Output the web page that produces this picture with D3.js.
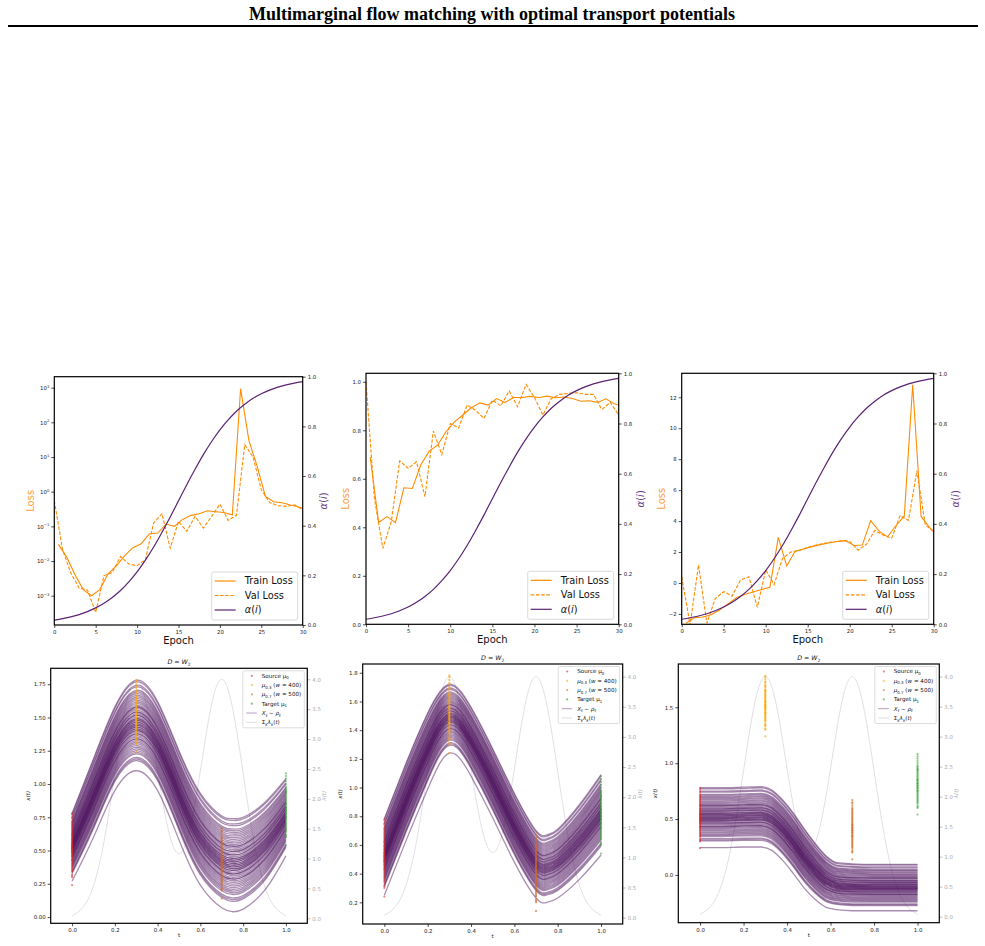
<!DOCTYPE html>
<html>
<head>
<meta charset="utf-8">
<script src="https://cdn.jsdelivr.net/npm/d3@7"></script>
<style>
body { margin: 0; background: #fff; }
svg { display: block; }
text { font-family: "DejaVu Sans", sans-serif; }
</style>
</head>
<body>
<svg id="fig" width="985" height="946"></svg>
<script>
// ---------- values ----------
var epochs = [0,1,2,3,4,5,6,7,8,9,10,11,12,13,14,15,16,17,18,19,20,21,22,23,24,25,26,27,28,29,30]
var train_epochs = [0.5,1.5,2.5,3.5,4.5,5.5,6.5,7.5,8.5,9.5,10.5,11.5,12.5,13.5,14.5,15.5,16.5,17.5,18.5,19.5,20.5,21.5,22.5,23.5,24.5,25.5,26.5,27.5,28.5,29.5,30]

// alpha(i) schedule (same in the three runs)
var alpha = [0.020,0.026,0.033,0.042,0.054,0.069,0.088,0.111,0.139,0.174,0.214,0.261,0.314,0.373,0.435,0.500,0.565,0.627,0.686,0.739,0.786,0.826,0.861,0.889,0.913,0.931,0.946,0.958,0.967,0.974,0.980]

// run 1 (log scale)
var trainA = [0.0303,0.013,0.004,0.0015,0.001,0.0015,0.0043,0.0073,0.0143,0.0243,0.0316,0.0616,0.064,0.117,0.100,0.159,0.208,0.232,0.283,0.265,0.25,0.212,935,30.3,5.38,0.733,0.515,0.482,0.412,0.361,0.33]
var valA = [0.55,0.0212,0.0045,0.00166,0.00146,0.00033,0.0038,0.0047,0.0136,0.0082,0.0073,0.011,0.125,0.232,0.0237,0.139,0.0718,0.194,0.0895,0.194,0.441,0.149,0.208,22.7,10,1.14,0.49,0.394,0.377,0.42,0.303]
// run 2
var trainB = [0.69,0.42,0.444,0.419,0.563,0.56,0.657,0.714,0.739,0.794,0.835,0.863,0.893,0.913,0.904,0.931,0.915,0.935,0.935,0.94,0.935,0.941,0.934,0.937,0.931,0.92,0.922,0.915,0.93,0.909,0.904]
var valB = [1.0,0.519,0.313,0.423,0.674,0.643,0.67,0.526,0.797,0.70,0.828,0.81,0.904,0.883,0.849,0.924,0.901,0.962,0.897,0.989,0.935,0.863,0.931,0.948,0.952,0.955,0.948,0.948,0.886,0.915,0.863]
// run 3
var trainC = [-2.6,-2.25,-2.2,-2.05,-1.75,-1.35,-0.95,-0.75,-0.58,-0.42,-0.28,2.95,1.1,2.05,2.2,2.35,2.48,2.58,2.68,2.74,2.42,2.45,4.03,3.35,2.98,3.7,4.33,12.8,4.3,3.6,3.32]
var valC = [0.41,-2.7,1.16,-2.6,-1.0,-0.56,-0.85,0.2,0.4,-1.57,0.84,-0.1,1.6,2.0,2.1,2.3,2.45,2.56,2.66,2.72,2.7,2.12,2.5,3.4,3.08,2.9,4.35,4.05,7.25,3.75,3.32]

// marginal samples (shared by the three flow plots)
var source = [0.24,0.30,0.31,0.32,0.34,0.35,0.36,0.37,0.38,0.39,0.40,0.41,0.42,0.43,0.43,0.44,0.45,0.46,0.46,0.47,
  0.48,0.48,0.49,0.49,0.50,0.50,0.51,0.51,0.52,0.52,0.53,0.53,0.54,0.54,0.55,0.55,0.56,0.57,0.57,0.58,
  0.59,0.59,0.60,0.61,0.62,0.62,0.63,0.64,0.65,0.66,0.67,0.68,0.69,0.70,0.71,0.72,0.74,0.75,0.77,0.78]
var mu03 = [1.24,1.30,1.31,1.33,1.34,1.35,1.37,1.38,1.39,1.40,1.41,1.42,1.43,1.44,1.45,1.45,1.46,1.47,1.48,1.48,
  1.49,1.50,1.50,1.51,1.52,1.52,1.53,1.54,1.55,1.55,1.56,1.57,1.58,1.59,1.60,1.61,1.62,1.63,1.64,1.65,
  1.65,1.66,1.68,1.69,1.70,1.72,1.73,1.75,1.77,1.78]
var mu07 = [0.14,0.20,0.21,0.22,0.24,0.25,0.26,0.27,0.28,0.29,0.30,0.31,0.32,0.33,0.34,0.35,0.35,0.36,0.37,0.38,
  0.38,0.39,0.40,0.40,0.41,0.42,0.42,0.43,0.44,0.45,0.45,0.46,0.47,0.48,0.49,0.50,0.51,0.52,0.53,0.54,
  0.55,0.56,0.57,0.58,0.59,0.60,0.62,0.64,0.65,0.67]
var target = [0.54,0.60,0.61,0.62,0.64,0.65,0.66,0.67,0.68,0.69,0.70,0.71,0.72,0.73,0.74,0.75,0.75,0.76,0.77,0.78,
  0.78,0.79,0.80,0.80,0.81,0.82,0.82,0.83,0.84,0.85,0.85,0.86,0.87,0.88,0.89,0.90,0.91,0.92,0.93,0.94,
  0.94,0.95,0.96,0.97,0.98,1.00,1.02,1.04,1.06,1.08]

// sum of lambda_k(t)
var lam_t = [0,0.05,0.1,0.15,0.2,0.25,0.3,0.35,0.4,0.45,0.5,0.55,0.6,0.65,0.7,0.75,0.8,0.85,0.9,0.95,1.0]
var lam = [0.04,0.18,0.54,1.30,2.43,3.53,4.00,3.54,2.47,1.48,1.08,1.48,2.47,3.54,4.00,3.53,2.43,1.30,0.54,0.18,0.04]

// trajectory envelopes: path of the highest (hi) and lowest (lo) source sample
var flow1_t = [0,0.1,0.2,0.3,0.4,0.5,0.6,0.7,0.75,0.8,0.9,1.0]
var flow1_hi = [0.78,1.19,1.58,1.78,1.62,1.25,0.93,0.76,0.74,0.75,0.86,1.04]
var flow1_lo = [0.27,0.60,0.95,1.10,0.95,0.58,0.24,0.07,0.04,0.06,0.20,0.46]
var flow2_t = [0,0.1,0.2,0.3,0.4,0.5,0.6,0.7,0.75,0.8,0.9,1.0]
var flow2_hi = [0.785,1.17,1.52,1.72,1.56,1.27,0.96,0.70,0.67,0.71,0.88,1.09]
var flow2_lo = [0.25,0.63,0.99,1.24,1.08,0.79,0.48,0.23,0.20,0.23,0.36,0.53]
var flow3_t = [0,0.1,0.2,0.28,0.33,0.38,0.43,0.48,0.53,0.58,0.63,0.7,0.8,0.9,1.0]
var flow3_hi = [0.78,0.78,0.785,0.79,0.76,0.67,0.55,0.41,0.28,0.17,0.11,0.10,0.095,0.095,0.095]
var flow3_lo = [0.245,0.245,0.25,0.25,0.22,0.13,0.01,-0.12,-0.22,-0.29,-0.31,-0.32,-0.32,-0.32,-0.32]

var epoch_ticks = [0,5,10,15,20,25,30]
var alpha_ticks = [0,0.2,0.4,0.6,0.8,1.0]
var t_ticks = [0,0.2,0.4,0.6,0.8,1.0]
var lam_ticks = [0,0.5,1,1.5,2,2.5,3,3.5,4]

var ORANGE = "#ff8c00", PURPLE = "#5a2373", TRAJ = "#4e125e"

// ---------- drawing ----------
var svg = d3.select("#fig")
var clip_n = 0

svg.append("text").attr("x", 492).attr("y", 20).attr("text-anchor", "middle")
  .style("font-family", "'Liberation Serif','Times New Roman',serif")
  .style("font-weight", "bold").style("font-size", "18px")
  .text("Multimarginal flow matching with optimal transport potentials")
svg.append("line").attr("x1", 8).attr("x2", 978).attr("y1", 26).attr("y2", 26)
  .attr("stroke", "#000").attr("stroke-width", 2)

// text with sub/superscripts and italics
function rich(sel, parts, fs) {
  var shift = 0
  parts.forEach(function(p) {
    var kind = p[1] || ""
    var target = kind.indexOf("sub") >= 0 ? fs * 0.3 : (kind.indexOf("sup") >= 0 ? -fs * 0.42 : 0)
    var ts = sel.append("tspan").text(p[0])
    if (target != shift) { ts.attr("dy", target - shift); shift = target }
    if (kind.indexOf("sub") >= 0 || kind.indexOf("sup") >= 0) ts.style("font-size", (fs * 0.7) + "px")
    if (kind.indexOf("it") >= 0) ts.style("font-style", "italic")
  })
}

function make_clip(p) {
  var cid = "clip" + (clip_n++)
  svg.append("clipPath").attr("id", cid).append("rect")
    .attr("x", p.left).attr("y", p.top).attr("width", p.right - p.left).attr("height", p.bottom - p.top)
  return "url(#" + cid + ")"
}

function style_axis(ax, fs, col) {
  ax.select(".domain").remove()
  ax.selectAll(".tick line").attr("stroke", col).attr("stroke-width", 0.8)
  ax.selectAll(".tick text").attr("fill", col).style("font-size", fs + "px")
}

function loss_panel(p) {
  var x = d3.scaleLinear().domain([0, 30]).range([p.left, p.right])
  var y = (p.log ? d3.scaleLog() : d3.scaleLinear()).domain(p.ydom).range([p.bottom, p.top])
  var ya = d3.scaleLinear().domain([0, 1]).range([p.bottom, p.top])
  var g = svg.append("g")
  var plot = g.append("g").attr("clip-path", make_clip(p))

  plot.append("path").datum(p.train)
    .attr("d", d3.line().x(function(d, i) { return x(train_epochs[i]) }).y(function(d) { return y(d) }))
    .attr("fill", "none").attr("stroke", ORANGE).attr("stroke-width", 1.1)
  plot.append("path").datum(p.val)
    .attr("d", d3.line().x(function(d, i) { return x(epochs[i]) }).y(function(d) { return y(d) }))
    .attr("fill", "none").attr("stroke", ORANGE).attr("stroke-width", 1.1).attr("stroke-dasharray", "3.6,1.6")
  plot.append("path").datum(alpha)
    .attr("d", d3.line().x(function(d, i) { return x(epochs[i]) }).y(function(d) { return ya(d) }).curve(d3.curveMonotoneX))
    .attr("fill", "none").attr("stroke", PURPLE).attr("stroke-width", 1.2)

  var xa = g.append("g").attr("transform", "translate(0," + p.bottom + ")")
    .call(d3.axisBottom(x).tickValues(epoch_ticks).tickSize(3).tickPadding(2))
  style_axis(xa, 5.4, "#222")
  var yl = g.append("g").attr("transform", "translate(" + p.left + ",0)")
    .call(d3.axisLeft(y).tickValues(p.yticks).tickSize(3).tickPadding(2).tickFormat(p.fmt))
  style_axis(yl, 5.4, "#222")
  if (p.log) {
    yl.selectAll(".tick text").each(function(d) {
      var t = d3.select(this).text("")
      var e = Math.round(Math.log10(d))
      rich(t, [["10"], [(e < 0 ? "\u2212" : "") + Math.abs(e), "sup"]], 5.4)
    })
  }
  var yr = g.append("g").attr("transform", "translate(" + p.right + ",0)")
    .call(d3.axisRight(ya).tickValues(alpha_ticks).tickFormat(d3.format(".1f")).tickSize(3).tickPadding(2))
  style_axis(yr, 5.4, "#222")

  g.append("rect").attr("x", p.left).attr("y", p.top).attr("width", p.right - p.left).attr("height", p.bottom - p.top)
    .attr("fill", "none").attr("stroke", "#000").attr("stroke-width", 1.2)

  var cy = (p.top + p.bottom) / 2
  g.append("text").attr("transform", "translate(" + p.loss_x + "," + cy + ") rotate(-90)")
    .attr("text-anchor", "middle").attr("dy", "0.35em").style("font-size", "10px").attr("fill", "#ffa040").text("Loss")
  var al = g.append("text").attr("transform", "translate(" + p.alpha_x + "," + cy + ") rotate(-90)")
    .attr("text-anchor", "middle").attr("dy", "0.35em").style("font-size", "10px").attr("fill", "#6a3c86")
  rich(al, [["\u03b1", "it"], ["("], ["i", "it"], [")"]], 10)
  g.append("text").attr("x", (p.left + p.right) / 2).attr("y", p.bottom + 18.5)
    .attr("text-anchor", "middle").style("font-size", "10px").attr("fill", "#111").text("Epoch")

  // legend
  var lw = 86, lh = 48
  var lx = p.right - 5 - lw, ly = p.bottom - 5 - lh
  var lg = g.append("g")
  lg.append("rect").attr("x", lx).attr("y", ly).attr("width", lw).attr("height", lh).attr("rx", 2)
    .attr("fill", "#fff").attr("fill-opacity", 0.85).attr("stroke", "#d0d0d0").attr("stroke-width", 0.8)
  var items = [
    {lab: [["Train Loss"]], col: ORANGE, dash: null},
    {lab: [["Val Loss"]], col: ORANGE, dash: "3.6,1.6"},
    {lab: [["\u03b1", "it"], ["("], ["i", "it"], [")"]], col: PURPLE, dash: null}
  ]
  items.forEach(function(it, i) {
    var yy = ly + 9 + i * 14.5
    lg.append("line").attr("x1", lx + 3).attr("x2", lx + 24).attr("y1", yy).attr("y2", yy)
      .attr("stroke", it.col).attr("stroke-width", 1.2).attr("stroke-dasharray", it.dash)
    var t = lg.append("text").attr("x", lx + 33).attr("y", yy).attr("dy", "0.35em").style("font-size", "9.8px").attr("fill", "#111")
    rich(t, it.lab, 9.8)
  })
}

function flow_panel(p) {
  var x = d3.scaleLinear().domain([-0.1, 1.1]).range([p.left, p.right])
  var y = d3.scaleLinear().domain(p.ydom).range([p.bottom, p.top])
  var yl = d3.scaleLinear().domain(p.ldom).range([p.bottom, p.top])
  var g = svg.append("g")
  var plot = g.append("g").attr("clip-path", make_clip(p))

  plot.append("path").datum(lam)
    .attr("d", d3.line().x(function(d, i) { return x(lam_t[i]) }).y(function(d) { return yl(d) }).curve(d3.curveNatural))
    .attr("fill", "none").attr("stroke", "#e3dee4").attr("stroke-width", 1)

  // one trajectory per source sample, placed by its rank inside the envelopes
  var lo = d3.min(source), hi = d3.max(source)
  var traj = d3.line().x(function(d) { return x(d[0]) }).y(function(d) { return y(d[1]) }).curve(p.curve)
  plot.selectAll(".traj").data(source).enter().append("path").attr("class", "traj")
    .attr("d", function(s) {
      var q = (s - lo) / (hi - lo)
      return traj(p.knots.map(function(t, k) { return [t, p.env_lo[k] + q * (p.env_hi[k] - p.env_lo[k])] }))
    })
    .attr("fill", "none").attr("stroke", TRAJ).attr("stroke-opacity", 0.48).attr("stroke-width", 1.3)

  var sets = [[source, 0, "#d62728", 0.55], [mu03, 0.3, "#ffa500", 0.7], [mu07, 0.7, "#d2691e", 0.65], [target, 1.0, "#2ca02c", 0.55]]
  sets.forEach(function(s) {
    plot.selectAll(null).data(s[0]).enter().append("circle")
      .attr("cx", x(s[1])).attr("cy", function(d) { return y(d) }).attr("r", 1.1)
      .attr("fill", s[2]).attr("fill-opacity", s[3])
  })

  var xa = g.append("g").attr("transform", "translate(0," + p.bottom + ")")
    .call(d3.axisBottom(x).tickValues(t_ticks).tickFormat(d3.format(".1f")).tickSize(3).tickPadding(2))
  style_axis(xa, 5.4, "#222")
  var ya = g.append("g").attr("transform", "translate(" + p.left + ",0)")
    .call(d3.axisLeft(y).tickValues(p.yticks).tickFormat(d3.format(p.yfmt)).tickSize(3).tickPadding(2))
  style_axis(ya, 5.4, "#222")
  var yr = g.append("g").attr("transform", "translate(" + p.right + ",0)")
    .call(d3.axisRight(yl).tickValues(lam_ticks).tickFormat(d3.format(".1f")).tickSize(3).tickPadding(2))
  style_axis(yr, 5.4, "#aaa")

  g.append("rect").attr("x", p.left).attr("y", p.top).attr("width", p.right - p.left).attr("height", p.bottom - p.top)
    .attr("fill", "none").attr("stroke", "#000").attr("stroke-width", 1.2)

  var cy = (p.top + p.bottom) / 2
  var tt = g.append("text").attr("x", (p.left + p.right) / 2).attr("y", p.top - 4)
    .attr("text-anchor", "middle").style("font-size", "6.3px").attr("fill", "#111")
  rich(tt, [["D", "it"], [" = "], ["W", "it"], ["2", "sub"]], 6.3)
  g.append("text").attr("transform", "translate(" + (p.left - 23) + "," + cy + ") rotate(-90)")
    .attr("text-anchor", "middle").attr("dy", "0.35em").style("font-size", "5.5px").style("font-style", "italic")
    .attr("fill", "#222").text("x(t)")
  g.append("text").attr("transform", "translate(" + (p.right + 17) + "," + cy + ") rotate(-90)")
    .attr("text-anchor", "middle").attr("dy", "0.35em").style("font-size", "5.5px").style("font-style", "italic")
    .attr("fill", "#aaa").text("\u03bb(t)")
  g.append("text").attr("x", (p.left + p.right) / 2).attr("y", p.bottom + 14)
    .attr("text-anchor", "middle").style("font-size", "5.5px").attr("fill", "#222").text("t")

  // legend
  var lw = 61.5, lh = 57
  var lx = p.right - 3 - lw, ly = p.top + 2.5
  var lg = g.append("g")
  lg.append("rect").attr("x", lx).attr("y", ly).attr("width", lw).attr("height", lh).attr("rx", 1.5)
    .attr("fill", "#fff").attr("fill-opacity", 0.85).attr("stroke", "#d0d0d0").attr("stroke-width", 0.7)
  var items = [
    {lab: [["Source \u03bc"], ["0", "sub"]], dot: "#d62728"},
    {lab: [["\u03bc", "it"], ["0.3", "sub"], [" ("], ["w", "it"], [" = 400)"]], dot: "#ffa500"},
    {lab: [["\u03bc", "it"], ["0.7", "sub"], [" ("], ["w", "it"], [" = 500)"]], dot: "#d2691e"},
    {lab: [["Target \u03bc"], ["1", "sub"]], dot: "#2ca02c"},
    {lab: [["X", "it"], ["t", "itsub"], [" \u223c "], ["\u03c1", "it"], ["t", "itsub"]], line: "#b59cc2"},
    {lab: [["\u03a3"], ["k", "itsub"], ["\u03bb", "it"], ["k", "itsub"], ["("], ["t", "it"], [")"]], line: "#e2dce3"}
  ]
  items.forEach(function(it, i) {
    var yy = ly + 5 + i * 9.3
    if (it.dot) lg.append("circle").attr("cx", lx + 9).attr("cy", yy).attr("r", 1.1).attr("fill", it.dot).attr("fill-opacity", 0.6)
    else lg.append("line").attr("x1", lx + 3.5).attr("x2", lx + 14).attr("y1", yy).attr("y2", yy).attr("stroke", it.line).attr("stroke-width", 1)
    var t = lg.append("text").attr("x", lx + 19).attr("y", yy).attr("dy", "0.35em").style("font-size", "5.6px").attr("fill", "#111")
    rich(t, it.lab, 5.6)
  })
}

loss_panel({left: 54.3, right: 302.7, top: 376.7, bottom: 625, log: true,
  ydom: [Math.pow(10, -3.845), Math.pow(10, 3.317)], yticks: [1e-3, 1e-2, 1e-1, 1, 1e1, 1e2, 1e3], fmt: null,
  train: trainA, val: valA, loss_x: 30, alpha_x: 323.3})
loss_panel({left: 366, right: 618.7, top: 373.3, bottom: 624.3, log: false,
  ydom: [0, 1.035], yticks: [0, 0.2, 0.4, 0.6, 0.8, 1.0], fmt: d3.format(".1f"),
  train: trainB, val: valB, loss_x: 345, alpha_x: 640})
loss_panel({left: 681.7, right: 933.7, top: 373.3, bottom: 624.3, log: false,
  ydom: [-2.67, 13.55], yticks: [-2, 0, 2, 4, 6, 8, 10, 12], fmt: d3.format("d"),
  train: trainC, val: valC, loss_x: 661.7, alpha_x: 955})

flow_panel({left: 50.7, right: 307.3, top: 668.3, bottom: 923.3, ydom: [-0.047, 1.87], ldom: [-0.084, 4.184],
  yticks: [0, 0.25, 0.5, 0.75, 1.0, 1.25, 1.5, 1.75], yfmt: ".2f",
  knots: flow1_t, env_hi: flow1_hi, env_lo: flow1_lo, curve: d3.curveNatural})
flow_panel({left: 362.7, right: 622.7, top: 664, bottom: 924, ydom: [0.049, 1.861], ldom: [-0.105, 4.21],
  yticks: [0.2, 0.4, 0.6, 0.8, 1.0, 1.2, 1.4, 1.6, 1.8], yfmt: ".1f",
  knots: flow2_t, env_hi: flow2_hi, env_lo: flow2_lo, curve: d3.curveNatural})
flow_panel({left: 678.3, right: 939.3, top: 664, bottom: 922.7, ydom: [-0.427, 1.887], ldom: [-0.1, 4.21],
  yticks: [0, 0.5, 1.0, 1.5], yfmt: ".1f",
  knots: flow3_t, env_hi: flow3_hi, env_lo: flow3_lo, curve: d3.curveMonotoneX})
</script>
</body>
</html>
